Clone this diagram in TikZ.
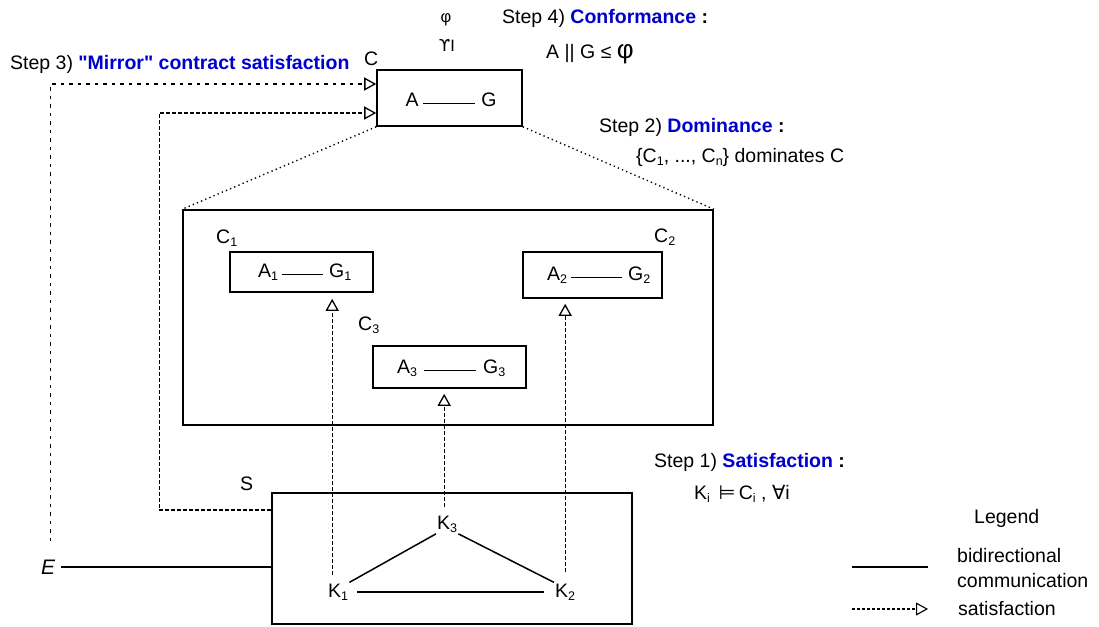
\documentclass[tikz,border=0pt]{standalone}
\usepackage{fontspec}
\setmainfont{Liberation Sans}[Ligatures=TeXOff]
\newfontfamily\symfont{DejaVu Sans}
\usetikzlibrary{arrows.meta,calc}
\definecolor{stepblue}{RGB}{0,0,204}
% subscript in the running sans font
\newcommand{\lo}[1]{\raisebox{-3.5pt}{\fontsize{12.5}{12.5}\selectfont #1}}
\newcommand{\stepname}[1]{{\bfseries\color{stepblue}#1}}

\begin{document}
\begin{tikzpicture}[x=1pt,y=-1pt,
  every node/.style={font=\fontsize{19.5}{25}\selectfont, inner sep=1pt},
  box/.style={draw, line width=1.6pt, rectangle, inner sep=0pt},
  lbl/.style={anchor=base west},
  link/.style={line width=1.5pt},
  pair/.style={line width=1.3pt, shorten <=3pt, shorten >=5pt},
  sat/.style={line width=1.3pt, dash pattern=on 4pt off 2pt,
    -{Triangle[open,length=12pt,width=13pt]}},
  mirror/.style={line width=1.3pt, dash pattern=on 3.5pt off 5pt,
    -{Triangle[open,length=12pt,width=13pt]}},
  zoomline/.style={line width=1.4pt, dash pattern=on 1.3pt off 3.2pt},
  small/.style={font=\fontsize{16.5}{18}\selectfont}
]
\useasboundingbox (0,0) rectangle (1099,626);

% ---- global contract C ----
\node[box, minimum width=145pt, minimum height=56pt] (C) at (449.5,98) {};
\node[lbl] (Clbl) at (363,65) {C};
\node[anchor=base] (A) at (412,106) {A};
\node[anchor=base] (G) at (489,106) {G};
\draw[pair] (A.mid east) -- (G.mid west);
\node[small, anchor=base] (phi) at (446,23) {φ};
\node[small, anchor=base] (ups) at (447,52) {{\symfont ϒ}I};

% ---- step texts ----
\node[lbl] (step3) at (9,70) {Step 3) \stepname{"Mirror" contract satisfaction}};
\node[lbl] (step4) at (501,24) {Step 4) \stepname{Conformance} {\bfseries :}};
\node[lbl] (conf) at (545,59) {A || G ≤ {\fontsize{26}{26}\selectfont φ}};
\node[lbl] (step2) at (598,132) {Step 2) \stepname{Dominance} {\bfseries :}};
\node[lbl] (dom) at (635,162) {\{C\lo{1}, ..., C\lo{n}\} dominates C};
\node[lbl] (step1) at (653,467) {Step 1) \stepname{Satisfaction} {\bfseries :}};
\node[lbl] (sat) at (693,499) {K\lo{i}\, {\symfont ⊨}\,C\lo{i} , {\symfont ∀}i};

% ---- set of contracts C1..C3 ----
\node[box, minimum width=530pt, minimum height=215pt] (D) at (448,317.5) {};

\node[box, minimum width=143pt, minimum height=40pt] (C1) at (301.5,272) {};
\node[lbl] (C1lbl) at (215,243) {C\lo{1}};
\node[lbl] (A1) at (257,277) {A\lo{1}};
\node[lbl] (G1) at (328,277) {G\lo{1}};
\draw[pair] (A1.mid east) -- (G1.mid west);

\node[box, minimum width=139pt, minimum height=46pt] (C2) at (592.5,275) {};
\node[lbl] (C2lbl) at (653,242) {C\lo{2}};
\node[lbl] (A2) at (546,280) {A\lo{2}};
\node[lbl] (G2) at (627,280) {G\lo{2}};
\draw[pair] (A2.mid east) -- (G2.mid west);

\node[box, minimum width=153pt, minimum height=42pt] (C3) at (449.5,367) {};
\node[lbl] (C3lbl) at (357,330) {C\lo{3}};
\node[lbl] (A3) at (396,373) {A\lo{3}};
\node[lbl] (G3) at (482,373) {G\lo{3}};
\draw[pair, shorten <=6pt, shorten >=6pt] (A3.mid east) -- (G3.mid west);

% zoom lines from C to the set of contracts
\draw[zoomline] (C.south west) -- (D.north west);
\draw[zoomline] (C.south east) -- (D.north east);

% ---- system S ----
\node[box, minimum width=360pt, minimum height=131pt] (S) at (452,558.5) {};
\node[lbl] (Slbl) at (239,490) {S};
\node[lbl] (K1) at (327,597) {K\lo{1}};
\node[lbl] (K2) at (554,597) {K\lo{2}};
\node[lbl] (K3) at (436,529) {K\lo{3}};
\draw[link] (K1.north east) -- (K3.south west);
\draw[link] (K3.south east) -- (K2.north west);
\draw[link, shorten <=8pt, shorten >=10pt] (K1.east) -- (K2.west);

% ---- environment E ----
\node[lbl, font=\fontsize{21}{25}\selectfont\itshape] (E) at (40,574) {E};
\draw[link, shorten <=5pt] (E.east) -- (E.east -| S.west);

% ---- satisfaction links ----
\coordinate (k1up) at ($(K1.north)+(-6,-7)$);
\coordinate (k2up) at ($(K2.north)+(0,-10)$);
\coordinate (k3up) at ($(K3.north)+(-3,-7)$);
\draw[sat, shorten >=6pt] (k1up) -- (k1up |- C1.south);
\draw[sat, shorten >=5pt] (k2up) -- (k2up |- C2.south);
\draw[sat, shorten >=5pt] (k3up) -- (k3up |- C3.south);

\draw[sat] ($(S.west)+(0,-48.5)$) -- ++(-112,0) |- ($(C.west)+(0,15)$);
\draw[mirror] ($(E.north)+(2.5,-17)$) |- ($(C.west)+(0,-14)$);

% ---- legend ----
\node[lbl] (leg) at (973,523) {Legend};
\coordinate (lgA) at (852,567);
\coordinate (lgB) at (928,567);
\coordinate (lgC) at (852,609);
\coordinate (lgD) at (928,609);
\draw[link] (lgA) -- (lgB);
\draw[sat, line width=1.1pt, dash pattern=on 3pt off 2pt] (lgC) -- (lgD);
\node[anchor=north west, align=left] (legcomm) at (956,547) {bidirectional\\communication};
\node[lbl] (legsat) at (957,615) {satisfaction};
\end{tikzpicture}
\end{document}
